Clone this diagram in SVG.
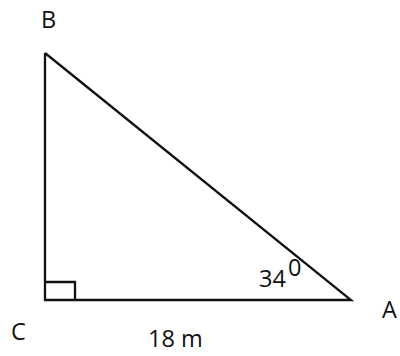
<svg xmlns="http://www.w3.org/2000/svg" width="400" height="356" viewBox="0 0 400 356">
<style>
.l{fill:none;stroke:#111;stroke-width:2.3;stroke-linejoin:miter}
text{font-family:"Open Sans","Liberation Sans",sans-serif;font-size:23.5px;fill:#111}
</style>
<rect width="400" height="356" fill="#fff"/>
<g id="connectors">
<polyline class="l" points="45,53 45,300 351,300 45,53"/>
<polyline class="l" points="45,282 75,282 75,300"/>
</g>
<g id="B"><text x="41" y="28">B</text></g>
<g id="C"><text x="11" y="340">C</text></g>
<g id="A"><text x="382" y="318">A</text></g>
<g id="side"><text x="148" y="347">18 m</text></g>
<g id="angle"><text x="259" y="287">34</text><text x="288" y="276" font-size="14">0</text></g>
</svg>
